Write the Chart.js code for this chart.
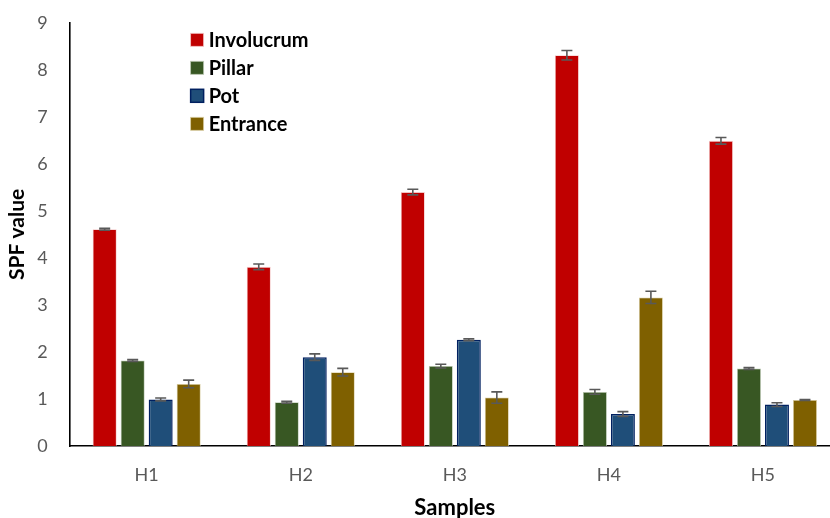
<!DOCTYPE html>
<html>
<head>
<meta charset="utf-8">
<script src="https://cdn.jsdelivr.net/npm/chart.js@4.4.1/dist/chart.umd.min.js"></script>
<style>
  html, body { margin: 0; padding: 0; background: #ffffff; overflow: hidden; }
  #wrap { width: 830px; height: 518px; overflow: hidden; }
  #Grafica { display: block; margin-top: -10px; }
</style>
</head>
<body>
<div id="wrap"><canvas id="Grafica" width="842" height="531"></canvas></div>
<script>
const samples = ['H1', 'H2', 'H3', 'H4', 'H5'];
const seriesNames = ['Involucrum', 'Pillar', 'Pot', 'Entrance'];

const involucrum = [4.61, 3.81, 5.40, 8.31, 6.49];
const pillar = [1.82, 0.93, 1.70, 1.15, 1.65];
const pot = [0.99, 1.89, 2.26, 0.68, 0.88];
const entrance = [1.32, 1.57, 1.03, 3.16, 0.98];

// standard errors
const involucrumErr = [0.02, 0.06, 0.06, 0.10, 0.07];
const pillarErr = [0.02, 0.02, 0.04, 0.05, 0.02];
const potErr = [0.03, 0.07, 0.02, 0.05, 0.04];
const entranceErr = [0.08, 0.08, 0.12, 0.13, 0.01];

const yTicks = [0, 1, 2, 3, 4, 5, 6, 7, 8, 9];

const fillColors = ['#C00000', '#385723', '#1F4E79', '#7F6000'];
const edgeColors = ['#F2C4C4', '#B9C6B0', '#002060', '#D8CCA0'];

function makeSet(i, data, err){
    return {
        label: seriesNames[i],
        data: data,
        errors: err,
        backgroundColor: fillColors[i],
        borderColor: edgeColors[i],
        borderWidth: i === 2 ? 1.5 : 0.8,
        categoryPercentage: 0.727,
        barPercentage: 0.857
    };
}

// error bars drawn from the dataset's own errors through the y scale
const errorBars = {
    id: 'errorBars',
    afterDatasetsDraw(chart){
        const ctx = chart.ctx;
        const y = chart.scales.y;
        ctx.save();
        ctx.strokeStyle = '#595959';
        ctx.lineWidth = 1.6;
        chart.data.datasets.forEach((ds, di) => {
            const meta = chart.getDatasetMeta(di);
            meta.data.forEach((bar, j) => {
                const v = ds.data[j], e = ds.errors[j];
                const top = y.getPixelForValue(v + e);
                const bot = y.getPixelForValue(v - e);
                const x = bar.x;
                ctx.beginPath();
                ctx.moveTo(x, top); ctx.lineTo(x, bot);
                ctx.moveTo(x - 5.5, top); ctx.lineTo(x + 5.5, top);
                ctx.moveTo(x - 5.5, bot); ctx.lineTo(x + 5.5, bot);
                ctx.stroke();
            });
        });
        ctx.restore();
    }
};

// vertical legend sitting inside the plot, top left
const insideLegend = {
    id: 'insideLegend',
    afterDraw(chart){
        const ctx = chart.ctx;
        const area = chart.chartArea;
        const x0 = area.left + 121;
        const y0 = area.top + 17;
        ctx.save();
        ctx.font = 'bold 20px Lato';
        ctx.textBaseline = 'middle';
        chart.data.datasets.forEach((ds, i) => {
            const yy = y0 + i * 28;
            ctx.fillStyle = ds.backgroundColor;
            ctx.fillRect(x0, yy - 6.5, 13, 13);
            ctx.strokeStyle = ds.borderColor;
            ctx.lineWidth = i === 2 ? 1.5 : 0.8;
            ctx.strokeRect(x0, yy - 6.5, 13, 13);
            ctx.fillStyle = '#000000';
            ctx.fillText(ds.label, x0 + 18, yy + 1);
        });
        ctx.restore();
    }
};

new Chart(document.getElementById('Grafica').getContext('2d'), {
    type: 'bar',
    data: {
        labels: samples,
        datasets: [
            makeSet(0, involucrum, involucrumErr),
            makeSet(1, pillar, pillarErr),
            makeSet(2, pot, potErr),
            makeSet(3, entrance, entranceErr)
        ]
    },
    options: {
        responsive: false,
        animation: false,
        layout: { padding: { top: 6, right: 2, left: 5, bottom: 0 } },
        plugins: {
            legend: { display: false },
            tooltip: { enabled: false }
        },
        scales: {
            x: {
                grid: { display: false, drawTicks: false },
                border: { display: true, color: '#000000', width: 1.6 },
                ticks: { color: '#595959', font: { family: 'Lato', size: 18 }, padding: 18 },
                title: {
                    display: true,
                    text: 'Samples',
                    color: '#000000',
                    font: { family: 'Lato', size: 22, weight: 'bold' },
                    padding: { top: -9, bottom: 0 }
                }
            },
            y: {
                min: 0,
                max: 9,
                afterBuildTicks(axis){ axis.ticks = yTicks.map(v => ({ value: v })); },
                grid: { display: false, drawTicks: false },
                border: { display: true, color: '#000000', width: 1.6 },
                ticks: { color: '#595959', font: { family: 'Lato', size: 18 }, padding: 22 },
                title: {
                    display: true,
                    text: 'SPF value',
                    color: '#000000',
                    font: { family: 'Lato', size: 21, weight: 'bold' },
                    padding: { top: 0, bottom: -15 }
                }
            }
        }
    },
    plugins: [errorBars, insideLegend]
});
</script>
</body>
</html>
